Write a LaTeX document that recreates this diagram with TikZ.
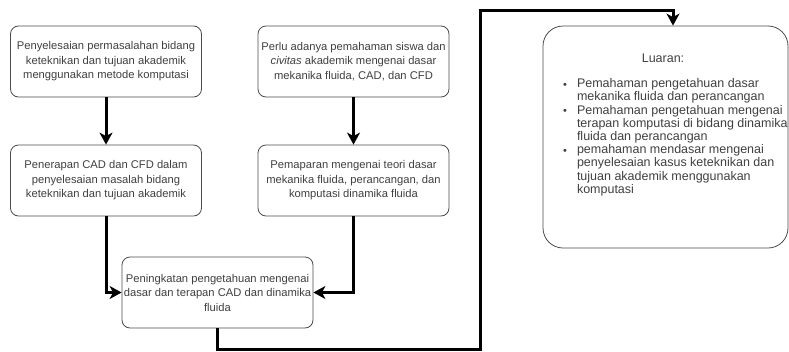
\documentclass[tikz,border=0pt]{standalone}
\usepackage{fontspec}
\setmainfont{Liberation Sans}
\usepackage{enumitem}
\usetikzlibrary{arrows.meta}

\begin{document}
\begin{tikzpicture}[x=1pt,y=-1pt,
						stepbox/.style={rectangle, rounded corners=8pt, draw=black!70, line width=0.8pt, fill=white, minimum width=191pt, minimum height=71pt, inner sep=0pt, align=center, text=black!75, font=\fontsize{11.2}{14.5}\selectfont},
						outbox/.style={rectangle, rounded corners=20pt, draw=black!70, line width=0.8pt, fill=white, minimum width=245pt, minimum height=222pt, inner sep=0pt, text=black!75, font=\fontsize{12.5}{13.2}\selectfont},
						flow/.style={line width=3pt, -{Stealth[length=12pt,width=13pt,inset=3.5pt]}},
						]
						\useasboundingbox (0,0) rectangle (789,351);
						%Nodes
						\node[stepbox]      (masalah) 	at 	(106,61.5)      {Penyelesaian permasalahan bidang\\keteknikan dan tujuan akademik\\menggunakan metode komputasi};
						\node[stepbox]      (perlu) 	at 	(353.5,61.5)    {Perlu adanya pemahaman siswa dan\\\textit{civitas} akademik mengenai dasar\\mekanika fluida, CAD, dan CFD};
						\node[stepbox]      (terapan) 	at 	(106,180.5)     {Penerapan CAD dan CFD dalam\\penyelesaian masalah bidang\\keteknikan dan tujuan akademik};
						\node[stepbox]      (teori) 	at 	(353.5,180.5)   {Pemaparan mengenai teori dasar\\mekanika fluida, perancangan, dan\\komputasi dinamika fluida};
						\node[stepbox]      (tingkat) 	at 	(217.5,292.5)   {Peningkatan pengetahuan mengenai\\dasar dan terapan CAD dan dinamika\\fluida};
						\node[outbox]       (luaran) 	at 	(665.5,137)     {\parbox[c][222pt][t]{245pt}{\vspace*{28pt}\hspace*{19pt}\begin{minipage}[t]{226pt}
						\noindent\makebox[202pt][c]{Luaran:}
						\begin{itemize}[leftmargin=15pt, labelsep=10pt, topsep=11.8pt, partopsep=0pt, itemsep=0pt, parsep=0pt, label={\raisebox{-0.8pt}{\fontsize{11}{11}\selectfont\textbullet}}]
						\item Pemahaman pengetahuan dasar\\mekanika fluida dan perancangan
						\item Pemahaman pengetahuan mengenai\\terapan komputasi di bidang dinamika\\fluida dan perancangan
						\item pemahaman mendasar mengenai\\penyelesaian kasus keteknikan dan\\tujuan akademik menggunakan\\komputasi
						\end{itemize}
						\end{minipage}}};
						
						\draw[flow] (masalah) --  (terapan);
						\draw[flow] (perlu) --  (teori);
						\draw[flow] (terapan.south) |-  (tingkat.west);
						\draw[flow] (teori.south) |-  (tingkat.east);
						\draw[flow] (tingkat.south) -- ++(0,21) -| (480,10) -| ([xshift=7.5pt]luaran.north);
					\end{tikzpicture}
\end{document}
